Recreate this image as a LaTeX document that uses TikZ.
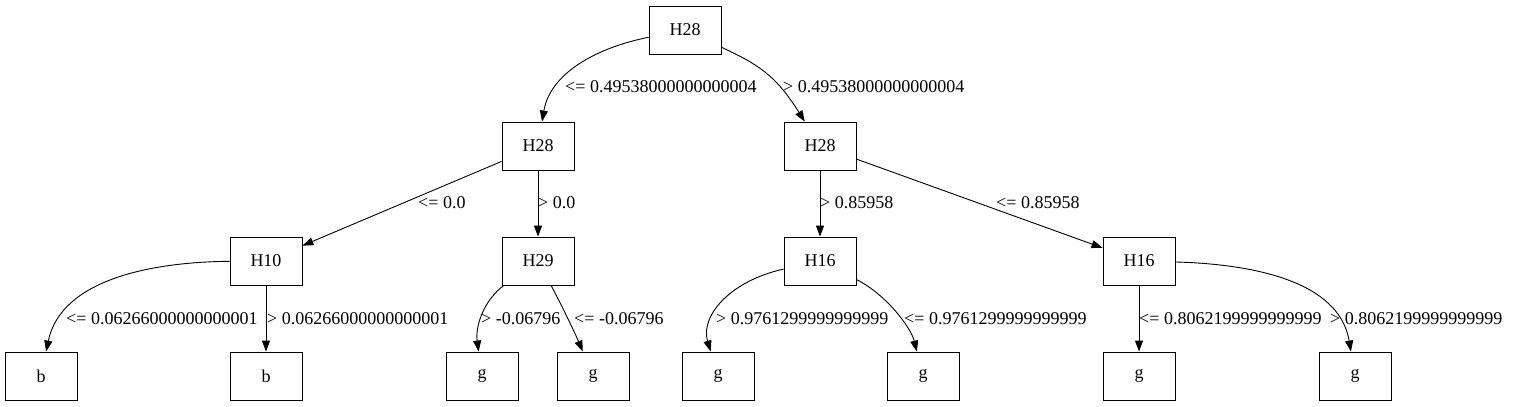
\documentclass[tikz,border=0pt]{standalone}
\usepackage{fontspec}
\setmainfont{Liberation Serif}
\usetikzlibrary{arrows.meta}
\begin{document}
\begin{tikzpicture}[x=1pt,y=-1pt,
  box/.style={draw,line width=0.9pt,rectangle,minimum width=72pt,minimum height=48pt,inner sep=0pt,font=\fontsize{18}{21}\selectfont},
  edge/.style={line width=0.9pt,-{Triangle[length=11pt,width=8pt]}},
  lbl/.style={anchor=base west,inner sep=0pt,font=\fontsize{18}{21}\selectfont}]
\useasboundingbox (0,0) rectangle (1519,407);
% nodes
\node[box] (r) at (685,30) {H28};
\node[box] (a) at (538,146) {H28};
\node[box] (c) at (820,146) {H28};
\node[box] (h10) at (266,261) {H10};
\node[box] (h29) at (538,261) {H29};
\node[box] (h16a) at (820,261) {H16};
\node[box] (h16b) at (1139,261) {H16};
\node[box] (b1) at (41,376) {b};
\node[box] (b2) at (266,376) {b};
\node[box] (g1) at (482,376) {g};
\node[box] (g2) at (593,376) {g};
\node[box] (g3) at (718,376) {g};
\node[box] (g4) at (923,376) {g};
\node[box] (g5) at (1139,376) {g};
\node[box] (g6) at (1355,376) {g};
% edges
\draw[edge] (r) .. controls (595,48) and (550,74) .. (a);
\draw[edge] (r) .. controls (757,64) and (775,74) .. (c);
\draw[edge] (a) -- (h10);
\draw[edge] (a) -- (h29);
\draw[edge] (c) -- (h16a);
\draw[edge] (c) -- (h16b);
\draw[edge] (h10) .. controls (150,262) and (61,280) .. (b1);
\draw[edge] (h10) -- (b2);
\draw[edge] (h29) .. controls (485,299) and (475,325) .. (g1);
\draw[edge] (h29) .. controls (561,304) and (575,333) .. (g2);
\draw[edge] (h16a) .. controls (730,281) and (700,316) .. (g3);
\draw[edge] (h16a) .. controls (887,295) and (911,328) .. (g4);
\draw[edge] (h16b) -- (g5);
\draw[edge] (h16b) .. controls (1250,264) and (1339,280) .. (g6);
% labels
\node[lbl] (l1) at (565,92.5) {<= 0.49538000000000004};
\node[lbl] (l2) at (783,92.5) {> 0.49538000000000004};
\node[lbl] (l3) at (418,208) {<= 0.0};
\node[lbl] (l4) at (538,208) {> 0.0};
\node[lbl] (l5) at (820,208) {> 0.85958};
\node[lbl] (l6) at (996,208) {<= 0.85958};
\node[lbl] (l7) at (66,324) {<= 0.06266000000000001};
\node[lbl] (l8) at (267,324) {> 0.06266000000000001};
\node[lbl] (l9) at (481,324) {> -0.06796};
\node[lbl] (l10) at (574,324) {<= -0.06796};
\node[lbl] (l11) at (716,324) {> 0.9761299999999999};
\node[lbl] (l12) at (904,324) {<= 0.9761299999999999};
\node[lbl] (l13) at (1139,324) {<= 0.8062199999999999};
\node[lbl] (l14) at (1330,324) {> 0.8062199999999999};
\end{tikzpicture}
\end{document}
